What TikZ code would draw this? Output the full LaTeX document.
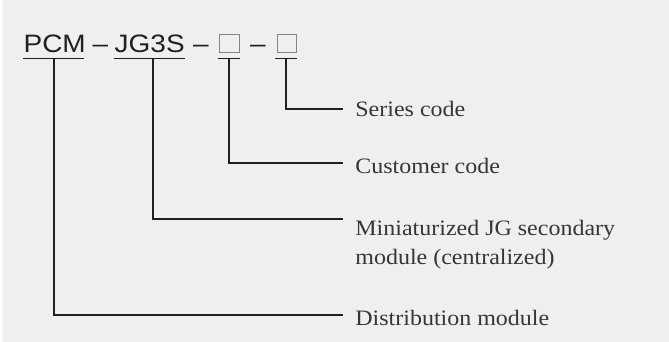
\documentclass[tikz,border=0pt]{standalone}
\usepackage{fontspec}
\setmainfont[FakeStretch=1.09]{Liberation Serif}
\newfontfamily\codefont[FakeStretch=1.11]{Liberation Sans}
\definecolor{bg}{HTML}{EFEFF1}
\definecolor{ln}{HTML}{231F20}
\definecolor{tx}{HTML}{363636}
\definecolor{bx}{HTML}{858585}
\begin{document}
\begin{tikzpicture}[x=0.5pt,y=-0.5pt,
  code/.style={font=\codefont\fontsize{12.6}{14}\selectfont, inner sep=0, anchor=base west, text=ln},
  dashsym/.style={code, anchor=base},
  lbl/.style={font=\fontsize{11}{14.75}\selectfont, inner sep=0, anchor=base west, text=tx, align=left},
  conn/.style={draw=ln, line width=0.7pt},
  sq/.style={draw=bx, line width=0.5pt, minimum width=9.7pt, minimum height=8.9pt, inner sep=0}]
\fill[bg] (0,0) rectangle (669,342);
\fill[white] (0,0) rectangle (3,342);
\useasboundingbox (0,0) rectangle (669,342);
% code line
\node[code] (pcm) at (23.2,52.3) {PCM};
\node[dashsym] (d1) at (100.5,52.3) {–};
\node[code] (jg) at (114.3,52.3) {JG3S};
\node[dashsym] (d2) at (200.8,52.3) {–};
\node[sq] (b1) at (229.6,43.9) {};
\node[dashsym] (d3) at (258,52.3) {–};
\node[sq] (b2) at (286.7,43.9) {};
% underline coordinates
\coordinate (u1a) at (23.3,58.5); \coordinate (u1b) at (84.3,58.5); \coordinate (u1) at (54,58.5);
\coordinate (u2a) at (114,58.5);  \coordinate (u2b) at (185,58.5);  \coordinate (u2) at (153,58.5);
\coordinate (u3a) at (218,58.5);  \coordinate (u3b) at (240,58.5);  \coordinate (u3) at (229,58.5);
\coordinate (u4a) at (275,58.5);  \coordinate (u4b) at (297,58.5);  \coordinate (u4) at (286,58.5);
\draw[conn] (u1a) -- (u1b);
\draw[conn] (u2a) -- (u2b);
\draw[conn] (u3a) -- (u3b);
\draw[conn] (u4a) -- (u4b);
% labels
\node[lbl] (ser) at (355,116.5) {Series code};
\node[lbl] (cus) at (355,173.5) {Customer code};
\node[lbl] (min) at (355,264.5) {Miniaturized JG secondary\\module (centralized)};
\node[lbl] (dis) at (355,325) {Distribution module};
% connector ends
\coordinate (e4) at (343,109);
\coordinate (e3) at (343,163);
\coordinate (e2) at (343,219);
\coordinate (e1) at (343,315);
\draw[conn] (u4) |- (e4);
\draw[conn] (u3) |- (e3);
\draw[conn] (u2) |- (e2);
\draw[conn] (u1) |- (e1);
\end{tikzpicture}
\end{document}
